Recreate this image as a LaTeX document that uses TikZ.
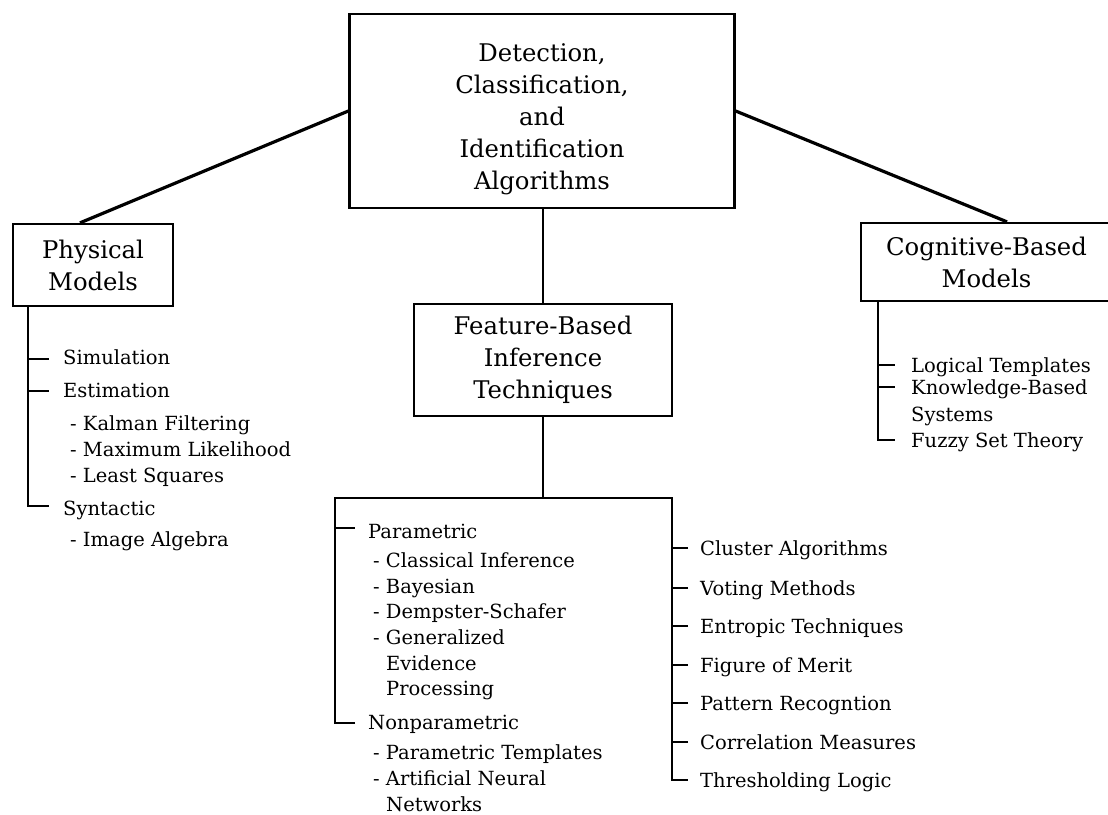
\documentclass[tikz,border=0pt]{standalone}
\usepackage{fontspec}
\setmainfont{DejaVu Serif}
\usetikzlibrary{calc}
\begin{document}
\begin{tikzpicture}[x=1pt,y=-1pt,
  box/.style={draw, line width=2.3pt, align=center, inner sep=0pt, font=\fontsize{24.3}{32}\selectfont},
  item/.style={anchor=base west, inner sep=0pt, font=\fontsize{19.5}{25.7}\selectfont},
  link/.style={line width=3.2pt},
  branch/.style={line width=2.5pt}]
\useasboundingbox (0,0) rectangle (1108,814);

% boxes
\node[box, minimum width=385pt, minimum height=194pt] (main) at (542,111)
  {\rule{0pt}{35pt}Detection,\\Classification,\\and\\Identification\\Algorithms};
\node[box, minimum width=258pt, minimum height=112pt] (feat) at (543,360)
  {Feature-Based\\Inference\\Techniques};
\node[box, minimum width=160pt, minimum height=82pt] (phys) at (93,265)
  {Physical\\Models};
\node[box, minimum width=251pt, minimum height=78pt] (cog) at (986.5,262)
  {Cognitive-Based\\Models};

% main connectors
\draw[link] (main.west) -- ([xshift=-13pt]phys.north);
\draw[link] (main.east) -- ([xshift=20.5pt]cog.north);
\draw[branch] (main.south -| feat.north) -- (feat.north);

% physical models list
\node[item] (sim) at (63,364) {Simulation};
\node[item] (est) at (63,397) {Estimation};
\node[item] (kal) at (70,430) {- Kalman Filtering};
\node[item] (mle) at (70,456) {- Maximum Likelihood};
\node[item] (lsq) at (70,482) {- Least Squares};
\node[item] (syn) at (63,515) {Syntactic};
\node[item] (img) at (70,546) {- Image Algebra};
\coordinate (ptr) at ([xshift=-65pt]phys.south);
\coordinate (tsim) at ([xshift=-14pt,yshift=5pt]sim.base west);
\coordinate (test) at ([xshift=-14pt,yshift=6pt]est.base west);
\coordinate (tsyn) at ([xshift=-14pt,yshift=9pt]syn.base west);
\draw[branch] (ptr) |- (tsyn);
\draw[branch] (tsim -| ptr) -- (tsim);
\draw[branch] (test -| ptr) -- (test);

% cognitive list
\node[item] (log) at (911,372) {Logical Templates};
\node[item] (kno) at (911,394) {Knowledge-Based};
\node[item] (sys) at (911,421) {Systems};
\node[item] (fuz) at (911,447) {Fuzzy Set Theory};
\coordinate (ctr) at ([xshift=-108.5pt]cog.south);
\coordinate (tlog) at ([xshift=-16pt,yshift=7pt]log.base west);
\coordinate (tkno) at ([xshift=-16pt,yshift=7pt]kno.base west);
\coordinate (tfuz) at ([xshift=-16pt,yshift=7pt]fuz.base west);
\draw[branch] (ctr) |- (tfuz);
\draw[branch] (tlog -| ctr) -- (tlog);
\draw[branch] (tkno -| ctr) -- (tkno);

% feature-based, left list
\node[item] (par) at (368,538) {Parametric};
\node[item] (cla) at (373,567) {- Classical Inference};
\node[item] (bay) at (373,593) {- Bayesian};
\node[item] (dem) at (373,618) {- Dempster-Schafer};
\node[item] (gen) at (373,644) {- Generalized};
\node[item] (evi) at (386,670) {Evidence};
\node[item] (pro) at (386,695) {Processing};
\node[item] (non) at (368,729) {Nonparametric};
\node[item] (ptm) at (373,759) {- Parametric Templates};
\node[item] (ann) at (373,785) {- Artificial Neural};
\node[item] (net) at (386,811) {Networks};

% feature-based, right list
\node[item] (clu) at (700,555) {Cluster Algorithms};
\node[item] (vot) at (700,595) {Voting Methods};
\node[item] (ent) at (700,633) {Entropic Techniques};
\node[item] (fom) at (700,672) {Figure of Merit};
\node[item] (pat) at (700,710) {Pattern Recogntion};
\node[item] (cor) at (700,749) {Correlation Measures};
\node[item] (thr) at (700,787) {Thresholding Logic};

\coordinate (fj) at ([yshift=-81pt]feat.south);
\coordinate (tpar) at ([xshift=-13pt,yshift=10pt]par.base west);
\coordinate (tnon) at ([xshift=-13pt,yshift=6pt]non.base west);
\coordinate (tclu) at ([xshift=-12pt,yshift=7pt]clu.base west);
\coordinate (tvot) at ([xshift=-12pt,yshift=7pt]vot.base west);
\coordinate (tent) at ([xshift=-12pt,yshift=7pt]ent.base west);
\coordinate (tfom) at ([xshift=-12pt,yshift=7pt]fom.base west);
\coordinate (tpat) at ([xshift=-12pt,yshift=7pt]pat.base west);
\coordinate (tcor) at ([xshift=-12pt,yshift=7pt]cor.base west);
\coordinate (tthr) at ([xshift=-12pt,yshift=7pt]thr.base west);
\draw[branch] (feat.south) -- (fj);
\draw[branch] (tnon) -| ([xshift=-208pt]fj) -- ([xshift=129pt]fj) |- (tthr);
\draw[branch] (tpar -| tnon) ++(-20pt,0) -- (tpar);
\foreach \t in {tclu,tvot,tent,tfom,tpat,tcor}
  \draw[branch] (\t) -- ++(-16pt,0);
\end{tikzpicture}
\end{document}
